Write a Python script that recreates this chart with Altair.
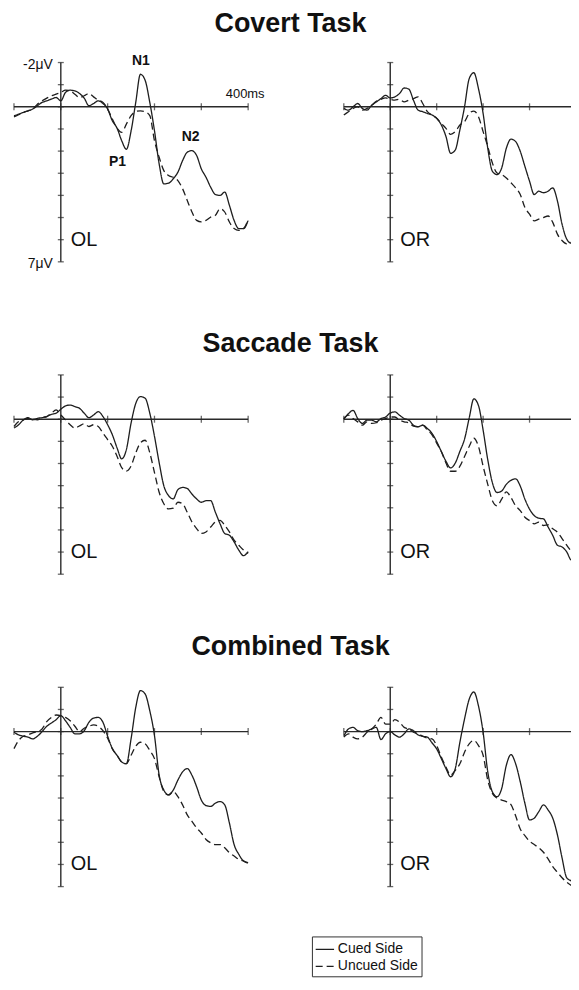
import altair as alt
import pandas as pd

# ---------------- data ----------------
T = list(range(-100, 401, 10))          # ms
Y_TICKS = list(range(-2, 8))            # µV (negative up)
X_TICKS = list(range(-100, 401, 100))   # ms
SERIES = ["Cued Side", "Uncued Side"]
TASKS = ["Covert Task", "Saccade Task", "Combined Task"]
SIDES = ["OL", "OR"]

COVERT_OL_CUED = [0.40, 0.33, 0.25, 0.18, 0.10, -0.05, -0.20, -0.27, -0.35, -0.42,
                  -0.27, -0.65, -0.75, -0.72, -0.60, -0.39, -0.05, -0.15, -0.27, -0.15,
                  0.10, 0.63, 0.96, 1.53, 1.92, 1.10, -0.20, -1.47, -1.20, -0.20,
                  1.08, 2.58, 3.48, 3.45, 3.25, 2.95, 2.43, 2.05, 1.98, 2.20,
                  2.80, 3.18, 3.63, 3.96, 4.00, 3.85, 4.45, 5.13, 5.50, 5.50,
                  5.13]
COVERT_OL_UNCUED = [0.45, 0.36, 0.25, 0.18, 0.10, -0.12, -0.27, -0.39, -0.50, -0.57,
                    -0.65, -0.75, -0.72, -0.57, -0.42, -0.50, -0.60, -0.45, -0.30, -0.20,
                    0.10, 0.55, 0.96, 1.15, 0.78, 0.40, 0.21, 0.18, 0.22, 0.40,
                    1.53, 2.28, 2.88, 3.10, 3.18, 3.33, 3.70, 4.23, 4.75, 5.13,
                    5.20, 5.13, 4.98, 4.90, 4.60, 4.75, 5.20, 5.50, 5.58, 5.50,
                    5.10]
COVERT_OR_CUED = [0.07, 0.15, 0.00, -0.15, 0.07, 0.15, -0.07, -0.22, -0.37, -0.52,
                  -0.40, -0.45, -0.60, -0.85, -0.80, -0.30, 0.15, 0.22, 0.30, 0.37,
                  0.52, 0.82, 1.34, 2.10, 1.95, 1.04, 0.00, -1.27, -1.54, -0.82,
                  0.30, 1.87, 2.91, 3.06, 2.76, 1.87, 1.46, 1.57, 2.01, 2.69,
                  3.36, 3.96, 3.81, 3.88, 3.81, 3.66, 4.25, 5.30, 5.97, 6.16,
                  6.12]
COVERT_OR_UNCUED = [0.37, 0.22, 0.07, 0.00, 0.15, 0.07, -0.07, -0.25, -0.34, -0.40,
                    -0.34, -0.30, -0.34, -0.22, -0.30, -0.37, -0.45, -0.15, 0.22, 0.37,
                    0.52, 0.75, 0.97, 1.24, 1.12, 0.82, 0.67, 0.30, 0.19, 0.45,
                    1.12, 1.79, 2.54, 2.99, 3.06, 3.21, 3.43, 3.66, 3.96, 4.55,
                    4.85, 5.15, 5.07, 5.00, 4.93, 5.22, 5.75, 6.04, 6.19, 6.12,
                    6.04]
SACCADE_OL_CUED = [0.40, 0.25, 0.03, -0.07, 0.03, -0.04, -0.07, -0.12, -0.22, -0.27,
                   -0.45, -0.60, -0.64, -0.57, -0.49, -0.27, -0.07, -0.19, -0.34, -0.12,
                   0.25, 0.70, 1.29, 1.79, 1.37, 0.18, -0.71, -1.02, -0.95, -0.27,
                   0.77, 1.96, 3.01, 3.45, 3.60, 3.18, 3.08, 3.13, 3.38, 3.60,
                   3.75, 3.68, 3.68, 4.20, 4.72, 5.16, 5.24, 5.54, 5.91, 6.16,
                   5.98]
SACCADE_OL_UNCUED = [0.33, 0.10, 0.03, -0.04, 0.00, 0.03, -0.07, -0.12, -0.27, -0.42,
                     -0.19, 0.03, 0.25, 0.40, 0.30, 0.21, 0.33, 0.25, 0.33, 0.63,
                     0.92, 1.22, 1.67, 2.19, 2.34, 2.11, 1.52, 1.07, 0.95, 1.52,
                     2.41, 3.30, 3.82, 4.05, 4.02, 3.75, 3.82, 4.20, 4.64, 4.94,
                     5.16, 5.09, 4.87, 4.64, 4.57, 4.79, 5.09, 5.46, 5.69, 5.91,
                     6.06]
SACCADE_OR_CUED = [0.00, -0.25, -0.40, -0.03, 0.19, 0.04, 0.04, 0.12, -0.03, -0.10,
                   -0.28, -0.33, -0.18, -0.03, 0.04, 0.27, 0.34, 0.27, 0.42, 0.64,
                   1.01, 1.46, 1.90, 2.20, 1.98, 1.45, 0.90, -0.05, -0.92, -0.62,
                   0.49, 1.83, 2.87, 3.31, 3.24, 2.94, 2.76, 2.69, 3.02, 3.61,
                   4.06, 4.35, 4.47, 4.50, 4.87, 5.25, 5.69, 5.77, 5.99, 6.36,
                   6.21]
SACCADE_OR_UNCUED = [-0.03, -0.18, -0.03, 0.12, 0.27, 0.12, 0.19, 0.16, 0.04, -0.03,
                     -0.10, -0.10, 0.04, 0.12, 0.16, 0.31, 0.34, 0.27, 0.49, 0.71,
                     1.08, 1.46, 1.98, 2.35, 2.35, 2.12, 1.68, 1.23, 0.86, 1.23,
                     2.12, 2.94, 3.68, 3.91, 3.61, 3.28, 3.54, 3.91, 4.13, 4.43,
                     4.58, 4.73, 4.65, 4.80, 4.77, 4.95, 5.10, 5.39, 5.69, 5.99,
                     6.36]
COMBINED_OL_CUED = [0.03, 0.15, 0.21, 0.25, 0.33, 0.21, 0.00, -0.24, -0.39, -0.54,
                    -0.72, -0.49, -0.19, 0.10, 0.10, -0.04, -0.42, -0.61, -0.64, -0.42,
                    0.21, 0.77, 1.07, 1.37, 1.45, 0.33, -1.09, -1.85, -1.70, -0.94,
                    0.18, 1.97, 2.64, 2.86, 2.64, 2.19, 1.82, 1.67, 1.97, 2.49,
                    3.09, 3.34, 3.38, 3.23, 3.16, 3.31, 4.13, 5.10, 5.54, 5.84,
                    5.92]
COMBINED_OL_UNCUED = [0.77, 0.40, 0.21, 0.15, 0.06, 0.00, -0.12, -0.45, -0.64, -0.75,
                      -0.72, -0.64, -0.49, -0.24, 0.00, -0.15, -0.24, -0.30, -0.24, -0.04,
                      0.30, 0.77, 1.07, 1.37, 1.45, 1.07, 0.66, 0.48, 0.55, 0.85,
                      1.22, 2.04, 2.71, 2.86, 2.71, 2.94, 3.31, 3.76, 4.05, 4.35,
                      4.58, 4.87, 5.02, 5.10, 5.10, 5.25, 5.47, 5.62, 5.77, 5.84,
                      5.96]
COMBINED_OR_CUED = [0.21, -0.12, -0.19, -0.04, 0.00, -0.04, -0.12, -0.19, 0.36, 0.10,
                    0.00, 0.15, 0.25, 0.10, -0.12, -0.04, 0.15, 0.21, 0.25, 0.51,
                    0.78, 1.22, 1.67, 2.04, 1.67, 0.48, -0.57, -1.46, -1.79, -1.16,
                    0.03, 1.82, 2.72, 2.94, 2.57, 1.52, 1.04, 1.45, 2.27, 3.24,
                    3.99, 3.91, 3.61, 3.31, 3.54, 3.91, 4.66, 5.70, 6.60, 6.75,
                    6.93]
COMBINED_OR_UNCUED = [0.25, 0.10, 0.25, 0.33, 0.25, 0.03, -0.12, -0.34, -0.64, -0.34,
                      -0.34, -0.54, -0.42, -0.19, -0.12, 0.03, 0.10, 0.21, 0.30, 0.33,
                      0.63, 1.15, 1.60, 1.97, 1.75, 1.45, 0.93, 0.55, 0.40, 0.63,
                      1.07, 2.19, 2.79, 3.01, 3.09, 3.16, 3.30, 3.80, 4.40, 4.70,
                      4.95, 5.10, 5.25, 5.45, 5.75, 6.10, 6.35, 6.60, 6.80, 6.95,
                      7.00]

DATA = {
    ("Covert Task", "OL"): (COVERT_OL_CUED, COVERT_OL_UNCUED),
    ("Covert Task", "OR"): (COVERT_OR_CUED, COVERT_OR_UNCUED),
    ("Saccade Task", "OL"): (SACCADE_OL_CUED, SACCADE_OL_UNCUED),
    ("Saccade Task", "OR"): (SACCADE_OR_CUED, SACCADE_OR_UNCUED),
    ("Combined Task", "OL"): (COMBINED_OL_CUED, COMBINED_OL_UNCUED),
    ("Combined Task", "OR"): (COMBINED_OR_CUED, COMBINED_OR_UNCUED),
}

PEAK_LABELS = ["P1", "N1", "N2"]
PEAK_T = [121, 171, 277]
PEAK_V = [2.5, -2.05, 1.35]

# ---------------- styling ----------------
FONT = "Liberation Sans"
AX = "#2a2a2a"
LC = "#1e1e1e"
W_LEFT, W_RIGHT, H = 235, 233, 200

xs = alt.Scale(domain=[T[0], T[-1]], nice=False, zero=False)
ys = alt.Scale(domain=[Y_TICKS[0], Y_TICKS[-1]], reverse=True, nice=False, zero=False)


def X(f):
    return alt.X(f, type="quantitative", scale=xs, axis=None)


def Y(f):
    return alt.Y(f, type="quantitative", scale=ys, axis=None)


def panel(task, side, first, title_offset=None):
    cued, uncued = DATA[(task, side)]
    df = pd.DataFrame({
        "t": T + T,
        "v": cued + uncued,
        "series": [SERIES[0]] * len(T) + [SERIES[1]] * len(T),
    })
    zero = alt.Chart(pd.DataFrame({"x": [T[0]], "x2": [T[-1]], "y": [0]})).mark_rule(
        color=AX, strokeWidth=1.4).encode(x=X("x"), x2="x2", y=Y("y"))
    yline = alt.Chart(pd.DataFrame({"x": [0], "y": [Y_TICKS[0]], "y2": [Y_TICKS[-1]]})).mark_rule(
        color=AX, strokeWidth=1.4).encode(x=X("x"), y=Y("y"), y2="y2")
    yt = alt.Chart(pd.DataFrame({"x": [0] * len(Y_TICKS), "y": Y_TICKS})).mark_tick(
        orient="horizontal", size=6, thickness=1.3, color=AX).encode(x=X("x"), y=Y("y"))
    xt = alt.Chart(pd.DataFrame({"x": X_TICKS, "y": [0] * len(X_TICKS)})).mark_tick(
        orient="vertical", size=7, thickness=1.3, color=AX).encode(x=X("x"), y=Y("y"))
    lines = alt.Chart(df).mark_line(color=LC, strokeWidth=1.3, interpolate="monotone").encode(
        x=X("t"), y=Y("v"),
        strokeDash=alt.StrokeDash(
            "series:N",
            scale=alt.Scale(domain=SERIES, range=[[1, 0], [7, 4]]),
            legend=alt.Legend(
                title=None, orient="none", legendX=299, legendY=877,
                strokeColor="#333", padding=3, symbolType="stroke",
                symbolStrokeColor=LC, symbolStrokeWidth=1.3, symbolSize=340,
                labelFont=FONT, labelFontSize=14, labelColor="#111",
                rowPadding=0, labelOffset=3, cornerRadius=0,
            ),
        ),
        detail="series:N",
    )
    side_lbl = alt.Chart(pd.DataFrame({"x": [0], "y": [Y_TICKS[-2]], "label": [side]})).mark_text(
        align="left", baseline="middle", dx=10, fontSize=20, font=FONT, color="#111").encode(
        x=X("x"), y=Y("y"), text="label:N")
    layers = [zero, yline, yt, xt, lines, side_lbl]
    if first:
        units = alt.Chart(pd.DataFrame({
            "x": [0, 0], "y": [Y_TICKS[0], Y_TICKS[-1]],
            "label": [f"{Y_TICKS[0]}\u03bcV", f"{Y_TICKS[-1]}\u03bcV"]})).mark_text(
            align="right", baseline="middle", dx=-8, dy=2, fontSize=14, font=FONT, color="#111").encode(
            x=X("x"), y=Y("y"), text="label:N")
        ms = alt.Chart(pd.DataFrame({"x": [X_TICKS[-1]], "y": [0], "label": [f"{X_TICKS[-1]}ms"]})).mark_text(
            align="center", baseline="bottom", dy=-6, dx=-3, fontSize=13, font=FONT, color="#111").encode(
            x=X("x"), y=Y("y"), text="label:N")
        peaks = alt.Chart(pd.DataFrame({"x": PEAK_T, "y": PEAK_V, "label": PEAK_LABELS})).mark_text(
            align="center", baseline="middle", fontSize=14, fontWeight="bold", font=FONT, color="#111").encode(
            x=X("x"), y=Y("y"), text="label:N")
        layers += [units, ms, peaks]
    props = dict(width=W_LEFT if side == SIDES[0] else W_RIGHT, height=H)
    if title_offset is not None:
        props["title"] = alt.Title(task, fontSize=27, fontWeight="bold", font=FONT, color="#111",
                                   anchor="middle", frame="group", offset=title_offset, dx=160)
    return alt.layer(*layers).properties(**props)


TITLE_OFFSETS = [16.5, 16.5, 25.5]
panels = []
for i, task in enumerate(TASKS):
    panels.append(panel(task, SIDES[0], i == 0, TITLE_OFFSETS[i]))
    panels.append(panel(task, SIDES[1], False))

chart = alt.concat(*panels, columns=2, spacing={"row": 113.5, "column": 96}, bounds="flush").properties(
    padding={"left": 3, "top": 0, "right": -8, "bottom": 0}, background="white"
).configure_view(strokeWidth=0)

chart.save("out.html", embed_options={"renderer": "svg", "actions": False})
